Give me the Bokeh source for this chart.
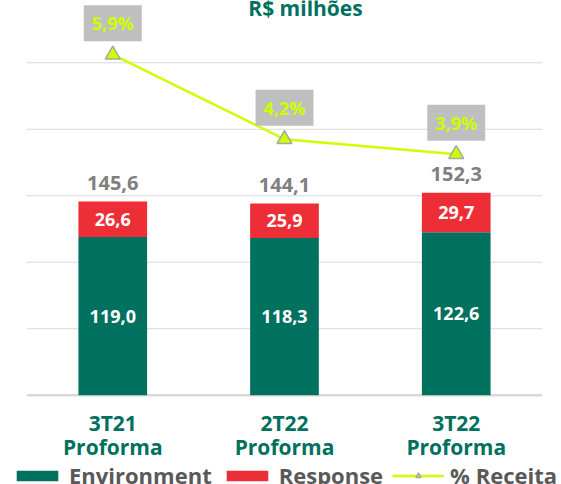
from bokeh.plotting import figure
from bokeh.models import Range1d, FactorRange, Legend, LegendItem, ColumnDataSource
from bokeh.core.properties import value
from bokeh.embed import file_html
from bokeh.resources import INLINE

# ---- data ----
quarters = ["3T21", "2T22", "3T22"]
basis = ["Proforma", "Proforma", "Proforma"]
categories = [f"{q} {b}" for q, b in zip(quarters, basis)]
environment = [119.0, 118.3, 122.6]
response = [26.6, 25.9, 29.7]
totals = [145.6, 144.1, 152.3]
receita_pct = [5.9, 4.2, 3.9]
grid_values = [50, 100, 150, 200, 250]
title_text = "R$ milhões"

# ---- styles ----
FONT = "Open Sans"
TEAL = "#00705F"
RED = "#EE2E36"
LIME = "#CCFF00"
BOX_GRAY = "#BFBFBF"
TOTAL_GRAY = "#7F7F7F"
LEGEND_GRAY = "#595959"
GRID = "#D9D9D9"


def br(v, suffix=""):
    return f"{v:.1f}".replace(".", ",") + suffix


src = ColumnDataSource(dict(
    cat=categories,
    q=quarters,
    b=basis,
    zero=[0] * len(categories),
    env=environment,
    resp=response,
    total=totals,
    pct=receita_pct,
    env_mid=[e / 2 for e in environment],
    resp_mid=[e + r / 2 for e, r in zip(environment, response)],
    env_lbl=[br(v) for v in environment],
    resp_lbl=[br(v) for v in response],
    total_lbl=[br(v) for v in totals],
    pct_lbl=[br(v, "%") for v in receita_pct],
))

# frame covers the whole picture; axes drawn by hand
p = figure(x_range=FactorRange(factors=categories, range_padding=0.113,
                               range_padding_units="absolute"),
           y_range=Range1d(-67.16, 296.86),
           frame_width=554, frame_height=484,
           min_border_left=7, min_border_right=0, min_border_top=0,
           min_border_bottom=0,
           output_backend="svg", toolbar_location=None,
           outline_line_color=None, background_fill_color="white",
           border_fill_color="white")
p.extra_y_ranges = {"pct": Range1d(-2.740, 6.989)}
p.xaxis.visible = False
p.yaxis.visible = False
p.xgrid.visible = False
p.ygrid.visible = False

# gridlines and baseline (span of the category area)
p.segment(x0=[0] * len(grid_values), x1=[len(categories)] * len(grid_values),
          y0=grid_values, y1=grid_values, line_color=GRID, line_width=1)
p.segment(x0=[0], x1=[len(categories)], y0=[0], y1=[0],
          line_color=GRID, line_width=2.5)

bars = p.vbar_stack(["env", "resp"], x="cat", width=0.4, color=[TEAL, RED],
                    line_color=None, source=src)

ln = p.line(x="cat", y="pct", y_range_name="pct", line_color=LIME,
            line_width=2.5, source=src)
mk = p.scatter(x="cat", y="pct", y_range_name="pct", marker="triangle",
               size=15, fill_color=LIME, line_color="#A6A6A6", line_width=1.5,
               source=src)

common = dict(text_font=value(FONT), text_font_style="bold",
              text_align="center", text_baseline="middle", source=src)
p.text(x="cat", y="env_mid", text="env_lbl", text_color="white",
       text_font_size="18px", **common)
p.text(x="cat", y="resp_mid", text="resp_lbl", text_color="white",
       text_font_size="18px", **common)
p.text(x="cat", y="total", text="total_lbl", text_color=TOTAL_GRAY,
       text_font_size="20px", y_offset=-18.5, **common)
p.text(x="cat", y="pct", text="pct_lbl", text_color=LIME, y_range_name="pct",
       text_font_size="18px", y_offset=-31.5,
       background_fill_color=BOX_GRAY, padding=(8, 6), **common)

# category labels (two lines)
p.text(x="cat", y="zero", text="q", text_color=TEAL, text_font_size="21px",
       y_offset=27.5, **common)
p.text(x="cat", y="zero", text="b", text_color=TEAL, text_font_size="21px",
       y_offset=51.5, **common)

# title
p.text(x=[categories[1]], y=[6.84], text=[title_text], x_offset=21,
       y_range_name="pct", text_color=TEAL, text_font=value(FONT),
       text_font_style="bold", text_font_size="21px", text_align="center",
       text_baseline="middle")

legend = Legend(items=[
    LegendItem(label=value("Environment"), renderers=[bars[0]]),
    LegendItem(label=value("Response"), renderers=[bars[1]]),
    LegendItem(label=value("% Receita"), renderers=[ln, mk]),
], orientation="horizontal", location=(4, -6),
    glyph_width=52, glyph_height=13, label_standoff=6, spacing=9,
    padding=0, margin=0, border_line_color=None, background_fill_alpha=0,
    label_text_font=FONT, label_text_font_style="bold",
    label_text_font_size="22px", label_text_color=LEGEND_GRAY)
p.add_layout(legend)

open("out.html", "w").write(file_html(p, INLINE))
